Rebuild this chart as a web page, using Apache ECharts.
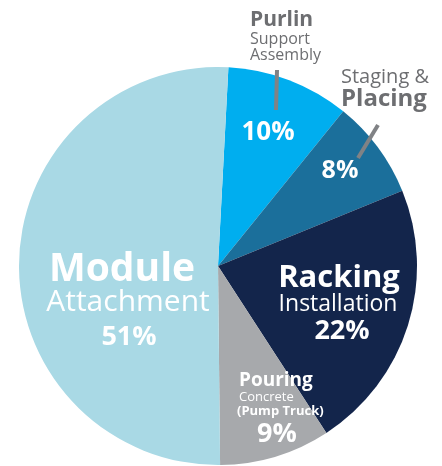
<!DOCTYPE html>
<html>
<head>
<meta charset="utf-8">
<script src="https://cdn.jsdelivr.net/npm/echarts@6/dist/echarts.min.js"></script>
<style>
  html, body { margin: 0; padding: 0; background: #fff; }
  #chart { width: 442px; height: 466px; }
</style>
</head>
<body>
<div id="chart"></div>
<script>
// slices, clockwise from the top
const categories = ["Purlin Support Assembly", "Staging & Placing", "Racking Installation", "Pouring Concrete (Pump Truck)", "Module Attachment"];
const values = [10, 8, 22, 9, 51];
const colors = ["#00aeef", "#1b6f9b", "#13254b", "#a7a9ac", "#a9d9e5"];

// label text pieces
const boldNames = ["Purlin", "Placing", "Racking", "Pouring", "Module"];
const subNames = [["Support", "Assembly"], ["Staging &"], ["Installation"], ["Concrete", "(Pump Truck)"], ["Attachment"]];

const FONT = "'Open Sans', sans-serif";
const gray = "#6d6e71";
const lineGray = "#808285";

function txt(x, y, text, size, weight, color, align) {
  return {
    type: "text", x: x, y: y, z: 10,
    style: {
      text: text, fill: color, font: weight + " " + size + "px " + FONT,
      textAlign: align || "left", textVerticalAlign: "middle"
    }
  };
}

const pct = values.map(v => v + "%");

const graphic = [
  // Purlin (outside)
  txt(250, 20, boldNames[0], 21, "bold", gray),
  txt(250, 39, subNames[0][0], 16, "normal", gray),
  txt(250, 55, subNames[0][1], 16, "normal", gray),
  { type: "line", z: 10, shape: { x1: 277, y1: 70, x2: 276, y2: 110 }, style: { stroke: lineGray, lineWidth: 4 } },
  txt(268, 133, pct[0], 26, "bold", "#fff", "center"),
  // Staging (outside)
  txt(341, 77, subNames[1][0], 20, "normal", gray),
  txt(341, 99, boldNames[1], 24, "bold", gray),
  { type: "line", z: 10, shape: { x1: 378, y1: 125, x2: 358, y2: 158 }, style: { stroke: lineGray, lineWidth: 4 } },
  txt(340, 171, pct[1], 25, "bold", "#fff", "center"),
  // Racking
  txt(339, 278, boldNames[2], 31, "bold", "#fff", "center"),
  txt(338, 304, subNames[2][0], 23, "normal", "#fff", "center"),
  txt(342, 331, pct[2], 27, "bold", "#fff", "center"),
  // Pouring
  txt(239, 381, boldNames[3], 19, "bold", "#fff"),
  txt(239, 397, subNames[3][0], 13, "normal", "#fff"),
  txt(237, 411, subNames[3][1], 13, "bold", "#fff"),
  txt(277, 434, pct[3], 27, "bold", "#fff", "center"),
  // Module
  txt(122, 270, boldNames[4], 39, "bold", "#fff", "center"),
  txt(128, 302, subNames[4][0], 30, "normal", "#fff", "center"),
  txt(129, 337, pct[4], 27, "bold", "#fff", "center")
];

const chart = echarts.init(document.getElementById("chart"));
chart.setOption({
  animation: false,
  color: colors,
  graphic: graphic,
  series: [{
    type: "pie",
    center: [218, 266],
    radius: 199,
    startAngle: 87,
    clockwise: true,
    silent: true,
    label: { show: false },
    labelLine: { show: false },
    itemStyle: { borderWidth: 0 },
    data: categories.map((c, i) => ({ name: c, value: values[i] }))
  }]
});
</script>
</body>
</html>
